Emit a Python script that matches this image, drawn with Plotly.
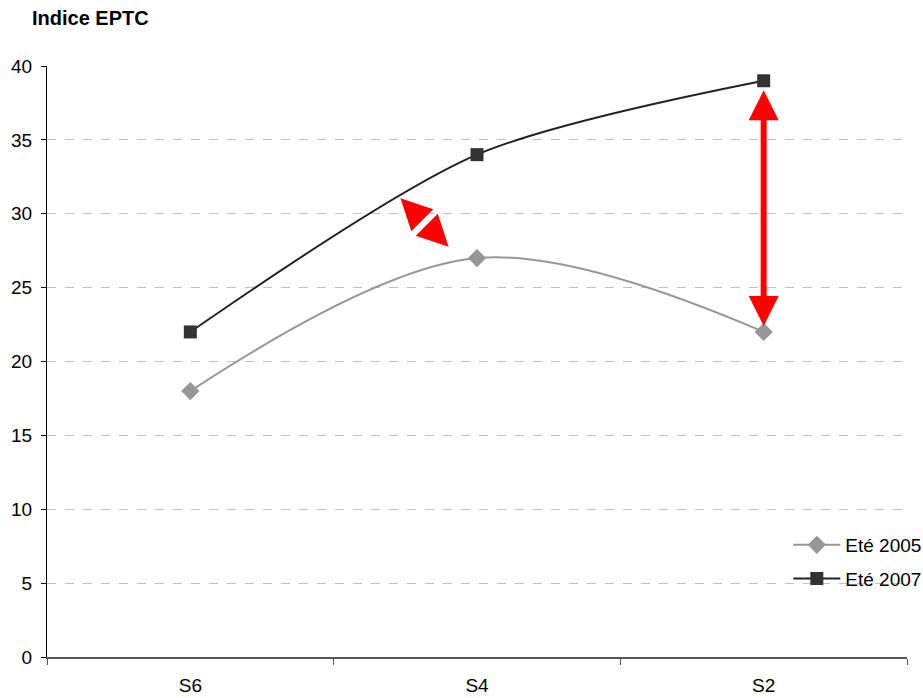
import plotly.graph_objects as go

categories = ["S6", "S4", "S2"]
ete_2005 = [18, 27, 22]
ete_2007 = [22, 34, 39]
y_ticks = [0, 5, 10, 15, 20, 25, 30, 35, 40]

FONT = "Liberation Sans, Arial, sans-serif"

# plot geometry (pixels) used to build the decorative diagonal arrow
PLOT_W, PLOT_H = 860, 591
X_RANGE = (-0.5, 2.5)
Y_RANGE = (0, 40)

fig = go.Figure()
fig.add_trace(go.Scatter(
    x=categories, y=ete_2005, name="Eté 2005", mode="lines+markers",
    line=dict(color="#969696", width=2, shape="spline", smoothing=1),
    marker=dict(symbol="diamond", size=14, color="#969696"),
    legendgroup="a",
))
fig.add_trace(go.Scatter(
    x=categories, y=ete_2007, name="Eté 2007", mode="lines+markers",
    line=dict(color="#222222", width=2, shape="spline", smoothing=0.8),
    marker=dict(symbol="square", size=13, color="#333333"),
    legendgroup="b",
))

# vertical double arrow at S2 between the two series
idx = categories.index("S2")
fig.add_annotation(
    x=idx, y=ete_2005[idx], ax=idx, ay=ete_2007[idx],
    xref="x", yref="y", axref="x", ayref="y", text="",
    showarrow=True, arrowhead=2, startarrowhead=2, arrowside="end+start",
    arrowwidth=6, arrowsize=1, startarrowsize=1, arrowcolor="#ff0000",
    standoff=6, startstandoff=8,
)

# diagonal double arrow (two heads separated by a thin white break)
diag_tip_a = (0.733, 31.05)   # (category index, value)
diag_tip_b = (0.901, 27.77)
HEAD_LEN, HEAD_HALF = 31.0, 15.5


def to_px(pt):
    px = (pt[0] - X_RANGE[0]) / (X_RANGE[1] - X_RANGE[0]) * PLOT_W
    py = (pt[1] - Y_RANGE[0]) / (Y_RANGE[1] - Y_RANGE[0]) * PLOT_H  # upward
    return px, py


def to_paper(px, py):
    return px / PLOT_W, py / PLOT_H


ax_, ay_ = to_px(diag_tip_a)
bx_, by_ = to_px(diag_tip_b)
dx, dy = bx_ - ax_, by_ - ay_
ln = (dx * dx + dy * dy) ** 0.5
ux, uy = dx / ln, dy / ln
nx, ny = -uy, ux


def head(tx, ty, sx, sy):
    cx, cy = tx + sx * HEAD_LEN, ty + sy * HEAD_LEN
    pts = [(tx, ty), (cx + nx * HEAD_HALF, cy + ny * HEAD_HALF),
           (cx - nx * HEAD_HALF, cy - ny * HEAD_HALF)]
    pp = [to_paper(*p) for p in pts]
    return "M {} {} L {} {} L {} {} Z".format(
        pp[0][0], pp[0][1], pp[1][0], pp[1][1], pp[2][0], pp[2][1])


for path in (head(ax_, ay_, ux, uy), head(bx_, by_, -ux, -uy)):
    fig.add_shape(type="path", path=path, xref="paper", yref="paper",
                  fillcolor="#ff0000", line=dict(width=0), layer="above")

fig.update_layout(
    width=923, height=698,
    margin=dict(l=47, r=16, t=66, b=41, autoexpand=False),
    paper_bgcolor="white", plot_bgcolor="white",
    font=dict(family=FONT, size=19, color="black"),
    title=dict(text="<b>Indice EPTC</b>", x=32 / 923, xanchor="left",
               xref="container", y=1 - 18 / 698, yanchor="middle", yref="container",
               font=dict(family=FONT, size=20, color="black")),
    showlegend=True,
    legend=dict(x=0.862, xanchor="left", y=0.2217, yanchor="top",
                bgcolor="rgba(0,0,0,0)", font=dict(family=FONT, size=19),
                tracegroupgap=6, traceorder="grouped", itemwidth=47),
)
fig.update_xaxes(
    type="category", range=list(X_RANGE), tickson="boundaries",
    ticks="outside", ticklen=6, tickcolor="#555555", ticklabelstandoff=10,
    showline=True, linecolor="#555555", linewidth=1.5,
    showgrid=False, zeroline=False, automargin=False,
    tickfont=dict(family=FONT, size=19),
)
fig.update_yaxes(
    range=list(Y_RANGE), tickvals=y_ticks, ticks="outside", ticklen=5, tickcolor="black",
    ticklabelstandoff=5,
    showline=True, linecolor="black", linewidth=1,
    showgrid=True, gridcolor="#c0c0c0", gridwidth=1, griddash="dash",
    zeroline=False, automargin=False,
    tickfont=dict(family=FONT, size=19),
)

fig.write_html(
    "out.html",
    config={"displayModeBar": False},
    post_script="document.body.style.margin='0';document.body.style.overflow='hidden';",
)
